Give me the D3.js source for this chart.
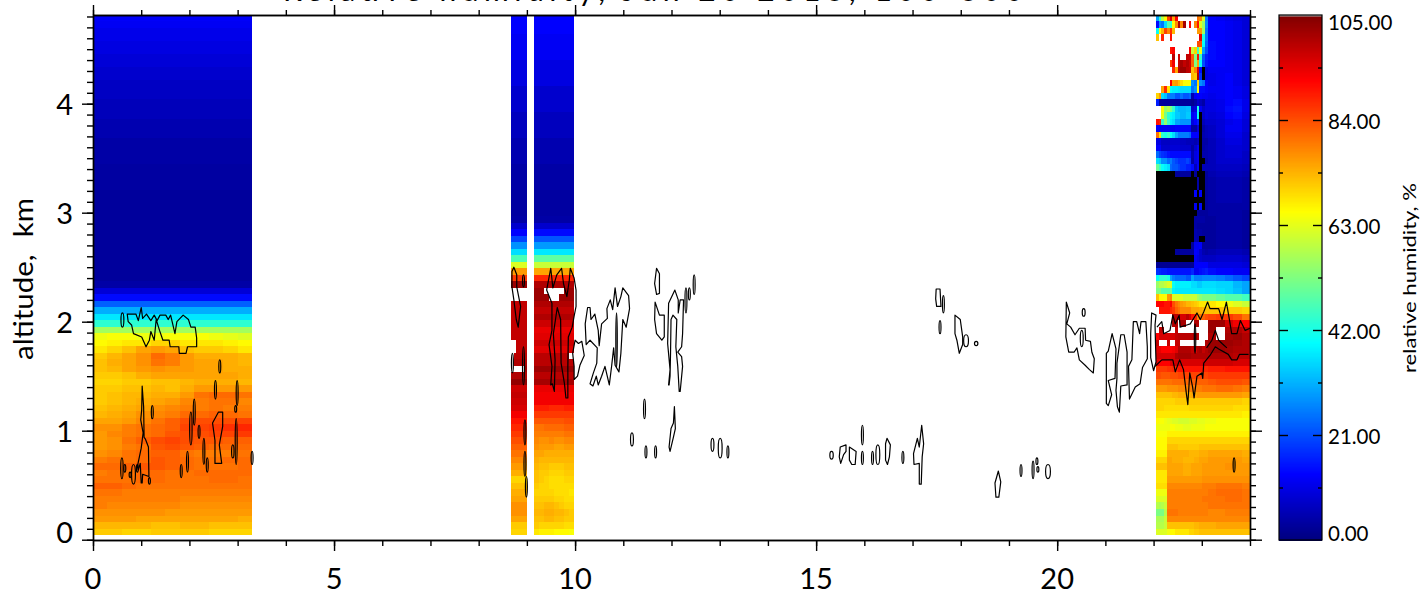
<!DOCTYPE html>
<html><head><meta charset="utf-8">
<script src="https://cdn.jsdelivr.net/npm/d3@7/dist/d3.min.js"></script>
<style>
html,body{margin:0;padding:0;background:#fff;overflow:hidden}
text{font-family:Lato,"Noto Sans",sans-serif;fill:#000}
</style></head><body><div id="chart"></div>
<script>
// ---------- data ----------
const W = null, K = -1;            // W: no data (white), K: out of range (black)
const xMajor = [0,5,10,15,20];
const yMajor = [0,1,2,3,4];
const barLabels = [0,21,42,63,84,105];
const titleText = "Relative humidity, Jun 20 2013, 100-300";
const rowBaseKm = 0.043, rowStepKm = 0.05966;

const blockLeftHours = [0,3.30];
const blockLeft = [
[71,71,70,70,71,71,71,71,70,70,70],
[73,73,73,73,72,72,73,73,72,72,72],
[76,76,76,75,75,75,75,75,75,75,74],
[77,77,77,77,77,76,76,76,76,76,76],
[79,78,78,78,78,78,77,77,77,77,77],
[79,79,79,79,79,79,78,78,78,78,78],
[80,80,79,79,79,79,79,79,79,79,79],
[82,82,81,80,80,80,80,80,80,80,80],
[80,80,80,81,81,80,80,80,81,81,80],
[79,80,80,81,81,80,80,81,81,81,81],
[81,81,82,83,83,82,81,80,80,80,81],
[79,80,80,81,83,82,81,80,80,81,81],
[77,78,80,81,82,82,80,79,79,79,80],
[76,77,79,80,83,84,83,82,81,81,81],
[76,77,80,82,84,85,84,83,83,82,82],
[76,78,79,80,81,83,84,84,85,85,86],
[77,77,79,80,81,82,85,85,86,87,88],
[75,75,76,78,80,82,84,84,84,84,85],
[73,74,75,77,78,79,81,81,82,81,80],
[72,73,74,75,77,78,79,79,80,79,79],
[71,72,73,74,75,76,78,79,80,80,78],
[71,72,73,73,74,74,76,80,81,81,80],
[71,71,72,72,73,72,74,76,76,76,76],
[70,70,71,71,72,72,73,74,74,74,73],
[71,71,72,74,75,75,75,75,75,75,74],
[72,73,75,76,77,76,76,75,75,74,74],
[72,74,75,77,80,79,76,75,75,74,73],
[71,73,75,77,81,79,76,74,74,74,73],
[68,70,72,75,76,75,72,71,71,70,68],
[66,67,68,68,70,70,68,68,68,67,66],
[64,65,65,64,64,65,65,65,64,63,62],
56,44,37,31,23,14,9,4,
3,3,3,3,3,3,3,3,3,3,3,3,3,3,
3.5,3.5,3.5,3.5,4,4,4,4,5,5,5,6,6,6,7,7,7,8,8,9,9,10,10,11,11,12,12.5
];

const blockMidAHours = [8.67,9.00];
const blockMidA = [
70,71,75,77,77,75,74,72,70,74,76,78,80,82,84,86,88,90,93,96,97,98,97,103,100,
[W,W,W,W,W,102],[W,100,100,100,100,100],[W,99,99,99,99,99],
[W,W,98,98,98,98],[W,W,98,98,98,98],
98,98,98,98,98,98,W,W,102,86,76,
62,47,36,28,20,13,8,4,
3.5,3.5,3.5,3.5,4,4,4,4,5,5,5,5,6.5,6.5,6.5,6.5,8,8,8,8,10,10,10,10,12,12,12,12,13,13,13
];

const blockMidBHours = [9.15,9.98];
const blockMidB = [
[68,67,67,67,66,66,66,65],[71,70,70,70,70,70,69,69],[72,72,73,73,72,72,71,71],
[73,73,74,74,73,73,72,71],[72,72,73,73,72,71,70,70],[71,71,71,71,70,70,69,69],
[70,70,70,70,69,69,69,68],[71,70,70,69,69,69,69,69],[72,71,70,69,69,69,70,70],
[72,71,71,70,70,70,71,71],[73,72,72,71,71,71,72,72],[74,73,73,73,73,73,73,73],
[75,75,74,74,74,74,74,74],[77,76,76,76,75,75,76,76],[78,77,77,78,77,77,78,78],
[79,79,79,79,79,79,80,80],[80,80,81,81,81,81,82,82],[83,83,83,83,83,83,84,84],
86,[89,89,89,88,88,88,89,89],93,93,94,101,99,102,99,
[99,99,99,99,99,99,99,W],95,97,95,94,97,100,98,100,
[102,102,102,W,W,102,102,102],[102,102,W,W,W,W,102,102],100,88,75,
60,49,37,29,22,14,8,4,
3.5,3.5,3.5,3.5,4,4,4,4,5,5,5,5,6.5,6.5,6.5,6.5,8,8,8,8,10,10,10,10,12,12,12,12,13,13,13
];

// written from the top row (highest altitude) downward
const blockRightHours = [22.05,23.12];
const blockRightTopDown = [
[30,45,58,66,85,95,75,92,W,W,W,W,W,W,W,80,78,62,26],
[14,28,25,36,48,44,66,78,100,78,101,W,92,W,78,90,62,55,27],
[40,66,73,85,78,87,73,W,W,W,W,W,W,W,W,76,76,56,25],
[72,W,88,W,W,90,W,W,W,W,W,W,W,W,W,W,95,42,25],
[W,W,W,W,W,W,W,W,W,W,W,W,W,W,W,84,84,40,23],
[W,W,W,W,W,90,92,W,W,W,W,W,92,60,70,45,65,30,21],
[W,W,W,W,W,W,99,W,97,W,W,98,98,82,52,90,45,22,16],
[W,W,W,W,W,86,93,W,98,101,98,100,97,82,52,75,40,21,15],
[W,W,W,W,W,W,88,75,99,102,102,99,98,72,78,95,14,K,10],
[W,W,W,W,W,W,W,W,W,W,W,W,W,73,71,100,18,K,10],
[W,W,W,W,W,92,75,76,72,69,65,65,65,28,25,70,28,25,13],
[W,W,75,88,68,40,38,38,37,36,36,36,36,25,28,66,14,14,13],
[70,76,36,33,26,26,26,22,22,25,22,22,24,5,12,13,13,12,12],
[16,3,3,3,3,3,3,3,3,3,3,3,3,2,4,8,6,4,10],
[W,W,66,55,58,52,45,34,32,32,32,33,33,8,10,42,12,8,10],
[W,W,64,52,44,40,38,34,34,32,32,34,34,12,14,40,K,8,10],
[90,88,45,55,45,38,36,30,30,28,28,28,28,10,13,16,K,6,8],
[13,12,12,12,12,12,12,13,13,13,13,13,13,4,4,10,K,4,6],
[80,68,44,42,45,40,36,30,26,26,26,26,24,13,13,13,K,5,6],
[10,10,7,7,7,8,8,8,8,7,7,6,6,6,5,7,K,4,4],
[13,13,8,8,8,9,9,9,9,8,8,8,8,4,8,12,K,4,5],
[24,20,18,17,15,14,14,14,14,14,14,14,14,5,10,12,K,5,5],
[36,34,28,28,24,26,22,20,18,18,18,20,18,4,10,12,K,K,4],
[50,45,40,38,36,24,22,22,20,18,18,16,16,14,6,13,K,6,6],
[K,K,K,K,K,K,K,3,3,3,3,3,3,K,3,K,K,K,3],
[K,K,K,K,K,K,K,K,K,K,K,K,K,K,K,4,K,K,3],
[K,K,K,K,K,K,K,K,K,K,K,K,K,K,K,4,K,K,3],
[K,K,K,K,K,K,K,K,K,K,K,K,K,K,13,K,13,K,3],
[K,K,K,K,K,K,K,K,K,K,K,K,K,K,K,K,K,K,3],
[K,K,K,K,K,K,K,K,K,K,K,K,K,K,12,K,14,K,3],
[K,K,K,K,K,K,K,K,K,K,K,K,K,K,K,3,3,3,3],
[K,K,K,K,K,K,K,K,K,K,K,K,K,K,4,4,4,4,3],
[K,K,K,K,K,K,K,K,K,K,K,K,K,K,4,3,3,3,3],
[K,K,K,K,K,K,K,K,K,K,K,K,K,K,5,4,4,3,3],
[K,K,K,K,K,K,K,K,K,K,K,K,K,K,5,4,K,K,3],
[K,K,K,K,K,K,K,K,K,K,K,K,K,3,12,12,13,3,3],
[K,K,K,K,K,K,K,3,3,3,3,3,3,3,13,12,8,5,4],
[K,K,K,K,K,K,K,K,K,K,K,K,K,K,12,10,8,7,7],
[2,2,2,2,2,2,2,2,2,2,2,2,2,2,13,13,13,13,13],
[18,17,16,16,15,15,15,15,15,15,15,15,15,17,12,12,14,15,16],
[40,44,44,44,42,30,26,24,24,24,24,22,22,30,26,26,26,27,27],
[55,58,58,60,62,62,40,38,38,38,38,38,38,36,36,34,34,36,36],
[52,52,48,48,48,50,38,37,37,37,37,37,37,37,37,37,37,37,37],
[72,66,66,65,76,78,62,62,62,62,60,60,60,60,60,56,54,52,52],
[92,92,92,90,90,92,84,80,78,76,75,73,73,72,71,70,68,68,68],
[W,90,90,90,90,88,86,82,80,78,78,78,78,75,75,75,74,73,72],
[W,W,W,W,W,W,99,99,96,96,96,99,96,90,88,78,80,82,84],
[W,W,W,W,W,W,100,100,W,101,101,W,W,W,100,100,W,W,W],
[W,98,98,W,W,W,W,98,W,W,W,W,W,W,W,W,W,W,W],
[92,96,96,96,96,96,96,98,99,99,99,99,99,99,99,99,W,W,W],
[98,W,W,W,98,W,W,98,98,W,W,W,W,W,W,W,W,W,100],
[95,94,92,92,92,92,93,95,100,100,100,100,100,98,96,100,101,98,100],
[96,96,96,96,96,96,96,100,101,101,101,101,101,100,100,100,100,100,100],
[94,92,92,92,92,95,96,97,96,96,96,96,96,96,96,96,96,97,97],
[86,86,86,86,87,87,88,88,90,90,90,90,90,90,90,90,90,89,88],
[84,84,83,83,83,84,84,84,85,85,85,85,85,85,85,85,85,85,85],
[80,80,80,80,80,80,81,81,81,81,81,81,82,82,82,82,82,82,82],
[76,76,76,76,77,77,77,77,78,78,78,78,79,79,79,79,79,80,80],
[72,72,72,72,72,72,73,73,74,74,74,74,74,75,75,76,76,76,76],
[70,70,70,70,70,70,70,71,71,71,71,71,71,71,71,71,71,71,71],
[70,70,70,69,69,69,69,69,69,69,69,69,70,70,70,70,70,70,70],
68,
[66,65,65,64,63,63,62,62,61,61,61,61,62,62,62,63,63,63,64],
[64,64,64,64,64,65,65,64,64,64,63,63,63,64,64,64,64,64,65],
[65,65,65,65,67,67,67,67,67,67,67,67,67,67,67,67,67,67,67],
[66,66,66,66,70,70,70,70,70,70,70,70,70,70,70,70,70,70,70],
[66,66,66,66,72,72,72,72,71,71,71,71,71,71,71,71,72,72,72],
[67,67,67,67,74,74,74,74,74,74,74,74,73,73,73,73,74,74,74],
[70,70,70,70,75,75,74,74,74,74,73,73,73,73,74,74,75,75,75],
[72,72,72,72,75,75,75,75,75,75,74,74,74,75,75,75,75,76,76],
[68,68,68,68,75,75,75,75,75,75,74,74,74,75,75,75,75,76,76],
[68,68,68,68,76,76,76,76,76,76,76,76,76,76,76,76,76,77,77],
[69,69,69,69,78,78,78,78,78,78,78,78,78,78,78,78,78,79,79],
[64,64,64,64,79,79,79,79,79,79,79,79,79,79,79,79,79,79,79],
[62,62,62,62,79,79,79,79,79,79,79,79,79,79,79,79,79,80,80],
[58,57,58,60,79,79,79,79,79,79,79,79,79,79,79,79,79,79,79],
[52,52,52,58,80,80,80,80,79,79,79,79,79,79,79,79,79,79,79],
[57,57,57,60,78,78,78,78,78,78,78,78,78,78,78,78,78,78,78],
[58,58,58,60,72,72,72,72,72,72,72,72,72,72,73,73,74,74,74],
[62,62,62,62,64,66,66,68,68,68,68,68,70,70,71,71,72,72,72]
];

const blockFarHours = [23.12,24.0];
const blockFarTopDown = [
[13,12,11,10,9],[13,13,12,11,9],[13,13,12,11,9],[13,13,12,11,9],[14,13,12,11,9],
[14,13,12,11,9],[14,13,12,11,9],[13,13,12,11,9],[12,12,12,11,9],[11,12,13,11,9],
[11,12,13,11,9],[12,12,13,12,10],[11,12,13,12,10],[10,11,13,14,11],[10,11,14,15,11],
[9,10,13,14,10],[8,9,11,12,9],[7,9,12,12,9],[7,9,11,11,8],[6,8,10,10,8],
[6,8,9,9,8],[6,8,9,9,7],[6,8,8,8,7],[6,7,7,7,6],[5,6,6,6,5],
[4,5,5,5,4],[4,5,5,5,4],[4,5,5,5,4],[4,5,5,5,4],[4,4,4,4,4],[4,4,4,4,3],
[3,4,4,4,3],[3,4,4,4,3],[3,4,4,4,3],[3,4,4,4,3],[3,4,4,4,3],
[5,6,6,6,5],[7,8,8,8,7],[10,10,10,10,9],[14,13,13,12,12],[27,26,24,22,20],
[36,35,35,32,30],[37,36,35,33,30],[52,50,48,48,46],[68,66,64,62,60],[72,72,71,71,70],
[85,86,86,84,80],[102,102,96,93,92],[102,W,100,100,98],[100,W,101,102,100],[102,102,102,101,100],
[102,102,101,100,100],[100,100,100,99,99],[97,97,97,96,96],[89,89,90,90,90],[86,86,86,86,86],
[83,84,84,84,83],[80,81,81,80,79],[76,76,76,76,75],[71,71,71,71,70],[70,70,70,69,69],
[68,68,68,68,67],[64,65,65,65,65],[65,65,65,65,65],[67,67,67,67,67],[70,70,70,70,70],
[72,72,72,72,72],[75,75,75,75,74],[76,76,76,76,75],[76,76,77,76,76],[76,76,76,76,76],
[77,77,77,77,77],[79,80,80,80,79],[80,81,81,81,80],[80,80,81,81,80],[80,80,80,80,80],
[78,78,79,79,79],[78,78,78,78,78],[74,75,75,75,75],[72,72,72,72,72]
];

// contour outlines as [hour, km]
const closedLoops = [
[[.71,2.07],[.89,2.07],[.94,2.01],[1.00,2.13],[1.03,2.03],[1.11,2.07],[1.20,2.01],[1.27,2.06],[1.33,2.01],[1.39,2.06],[1.51,2.06],[1.56,2.02],[1.61,2.06],[1.70,1.89],[1.74,2.00],[1.87,2.06],[1.98,2.02],[2.03,1.95],[2.12,1.95],[2.15,1.85],[2.15,1.77],[1.96,1.77],[1.93,1.71],[1.79,1.71],[1.78,1.77],[1.60,1.77],[1.58,1.83],[1.45,1.83],[1.38,1.92],[1.31,2.02],[1.27,1.83],[1.20,1.91],[1.17,1.83],[1.10,1.77],[1.01,1.86],[.84,1.89],[.80,1.97],[.73,2.00]],
[[1.02,1.41],[1.05,1.22],[1.06,.94],[1.09,.92],[1.15,.85],[1.16,.58],[1.03,.60],[1.02,.52],[1.00,.52],[.98,.70],[.94,.64],[.92,.67],[1.00,.84],[1.04,.98],[.99,1.10],[1.01,1.19]],
[[2.60,1.17],[2.69,1.17],[2.69,1.04],[2.62,.87],[2.67,.70],[2.53,.70],[2.53,.91],[2.48,1.07]],
[[8.73,2.50],[8.79,2.43],[8.79,2.32],[8.87,2.14],[8.82,1.95],[8.78,2.02],[8.73,2.20],[8.69,2.32],[8.69,2.46]],
[[9.495,2.49],[9.54,2.31],[9.62,2.43],[9.72,2.49],[9.76,2.35],[9.83,2.23],[9.88,2.38],[9.90,2.49],[9.98,2.40],[10.02,2.29],[10.02,2.14],[9.98,2.05],[9.94,1.95],[9.86,1.86],[9.85,1.59],[9.85,1.30],[9.81,1.30],[9.78,1.43],[9.71,1.62],[9.70,2.02],[9.63,2.13],[9.55,1.89],[9.585,1.65],[9.57,1.36],[9.53,1.43],[9.495,1.42],[9.52,1.59],[9.46,1.79],[9.52,1.92],[9.52,2.17],[9.41,2.29]],
[[9.98,1.47],[10.05,1.50],[10.10,1.60],[10.19,1.69],[10.14,1.82],[10.07,1.80],[10.00,1.83],[9.95,1.71],[9.98,1.59]],
[[10.23,1.79],[10.21,1.98],[10.26,2.13],[10.31,2.13],[10.33,2.02],[10.41,2.07],[10.48,1.92],[10.50,1.78],[10.55,1.98],[10.67,2.03],[10.66,2.12],[10.73,2.20],[10.78,2.11],[10.83,2.31],[10.88,2.14],[10.95,2.23],[10.99,2.31],[11.11,2.24],[11.13,2.12],[11.06,1.95],[10.99,2.02],[10.95,1.71],[10.91,1.54],[10.83,1.60],[10.80,1.76],[10.76,1.60],[10.71,1.42],[10.62,1.59],[10.55,1.50],[10.48,1.42],[10.44,1.50],[10.37,1.41],[10.31,1.43],[10.38,1.53],[10.45,1.62],[10.46,1.76],[10.31,1.83]],
[[11.69,2.49],[11.75,2.44],[11.75,2.26],[11.69,2.25],[11.65,2.35]],
[[11.66,2.18],[11.75,2.06],[11.85,2.06],[11.85,1.86],[11.80,1.83],[11.69,1.89],[11.65,2.02]],
[[11.94,1.42],[11.97,1.56],[11.92,1.80],[11.94,2.17],[12.07,2.29],[12.14,2.20],[12.14,2.08],[12.18,2.20],[12.25,2.20],[12.23,1.89],[12.21,1.77],[12.13,1.72],[12.21,1.68],[12.23,1.59],[12.18,1.36],[12.16,1.36],[12.13,1.59],[12.09,1.77],[12.11,2.02],[12.03,2.06],[11.99,2.02],[11.98,1.71],[11.97,1.50],[11.95,1.42]],
[[12.06,1.22],[12.08,1.02],[12.04,.94],[11.97,.81],[11.95,.85],[11.99,1.02],[12.04,1.07]],
[[15.50,.85],[15.62,.87],[15.62,.81],[15.57,.78],[15.51,.70],[15.48,.76]],
[[15.69,.85],[15.83,.81],[15.81,.69],[15.74,.69],[15.69,.73]],
[[16.47,.93],[16.54,.87],[16.52,.76],[16.48,.69],[16.44,.73],[16.44,.88]],
[[17.19,1.05],[17.23,.88],[17.20,.76],[17.18,.51],[17.14,.51],[17.14,.70],[17.03,.69],[17.02,.79],[17.10,.93],[17.14,.85]],
[[18.78,.63],[18.83,.53],[18.79,.39],[18.73,.39],[18.71,.52]],
[[17.49,2.30],[17.57,2.30],[17.59,2.14],[17.50,2.14],[17.48,2.21]],
[[17.88,2.06],[17.99,2.02],[18.04,1.86],[18.04,1.79],[17.97,1.71],[17.92,1.83],[17.88,1.89]],
[[20.19,2.18],[20.26,2.08],[20.20,1.98],[20.28,1.95],[20.37,1.88],[20.46,1.94],[20.58,1.94],[20.59,1.83],[20.69,1.82],[20.72,1.72],[20.77,1.66],[20.75,1.53],[20.67,1.56],[20.58,1.60],[20.46,1.65],[20.41,1.76],[20.35,1.72],[20.24,1.72],[20.18,1.86]],
[[21.02,1.71],[21.06,1.73],[21.14,1.89],[21.22,1.75],[21.20,1.48],[21.06,1.46],[21.13,1.33],[21.06,1.23],[21.02,1.25],[21.02,1.46]],
[[21.24,1.62],[21.32,1.88],[21.39,1.88],[21.45,1.72],[21.45,1.42],[21.32,1.41],[21.29,1.17],[21.25,1.22],[21.22,1.37],[21.24,1.48]],
[[21.48,1.59],[21.55,1.65],[21.58,2.00],[21.65,2.00],[21.71,1.89],[21.74,2.00],[21.84,2.00],[21.87,1.77],[21.87,1.66],[21.77,1.58],[21.72,1.43],[21.62,1.40],[21.50,1.29]],
[[21.96,2.08],[22.05,2.06],[22.03,1.97],[22.05,1.63],[22.00,1.55],[21.94,1.67],[21.94,1.89]]
];
const openLines = [
[[22.03,1.59],[22.17,1.65],[22.40,1.65],[22.45,1.54],[22.54,1.65],[22.62,1.56],[22.68,1.34],[22.71,1.24],[22.75,1.53],[22.81,1.40],[22.84,1.30],[22.90,1.50],[23.00,1.53],[23.02,1.48],[23.04,1.62],[23.17,1.69],[23.28,1.77],[23.35,1.75],[23.55,1.70],[23.62,1.65],[23.73,1.65],[23.78,1.70],[23.97,1.70]],
[[22.07,1.95],[22.17,2.00],[22.21,1.89],[22.34,1.92],[22.40,2.06],[22.45,1.98],[22.53,2.06],[22.55,1.95],[22.69,1.97],[22.76,1.98],[22.90,2.08],[22.97,2.02],[23.04,2.09],[23.12,2.18],[23.17,2.12],[23.35,2.12],[23.42,2.02],[23.51,2.18],[23.58,2.00],[23.62,1.89],[23.73,1.89],[23.80,2.01],[23.90,1.92],[24.0,1.94]],
[[23.10,1.76],[23.21,1.83],[23.28,1.92],[23.35,1.83],[23.42,1.80],[23.52,1.76]]
];
// narrow contour loops: [hour, lower km, upper km, half width in hours]
const thinLoops = [
[.61,1.95,2.08,.03],[2.63,1.53,1.65,.02],[2.54,1.29,1.46,.02],[2.99,1.23,1.46,.02],[2.96,1.17,1.23,.02],
[1.23,1.11,1.23,.02],[2.10,1.05,1.29,.02],[2.03,.87,1.17,.025],[2.20,.93,1.05,.02],[2.30,.69,.93,.02],
[2.37,.62,.75,.02],[1.96,.62,.81,.02],[1.83,.57,.69,.02],[2.97,.69,1.11,.02],[2.90,.75,.87,.025],
[3.30,.69,.81,.02],[.60,.56,.75,.025],[.66,.62,.69,.02],[.77,.57,.62,.02],[.84,.51,.69,.04],
[.92,.62,.69,.02],[1.17,.51,.57,.02],
[8.93,2.32,2.43,.02],[8.93,1.42,1.77,.02],[8.70,1.53,1.71,.02],[8.96,.87,1.10,.02],[8.96,.58,.81,.02],[8.99,.39,.58,.02],
[10.86,1.58,2.08,.015],[12.30,2.08,2.31,.02],[12.37,2.20,2.31,.02],[12.47,2.25,2.43,.02],
[11.44,1.11,1.29,.02],[11.18,.86,.98,.03],[11.47,.75,.86,.02],[11.67,.75,.86,.02],
[12.85,.81,.93,.03],[13.01,.75,.93,.04],[13.17,.75,.86,.02],
[15.32,.74,.81,.035],[15.96,.87,1.05,.02],[15.96,.69,.81,.02],[16.17,.69,.81,.02],[16.28,.69,.87,.04],[16.80,.70,.81,.02],
[19.25,.58,.69,.02],[19.50,.56,.72,.02],[19.58,.69,.75,.02],[19.60,.62,.67,.02],[19.81,.56,.69,.05],
[17.64,2.08,2.24,.02],[17.57,1.89,2.01,.02],[18.11,1.77,1.88,.05],[18.32,1.78,1.82,.035],
[20.55,2.05,2.12,.03],[20.51,1.77,1.92,.03],[22.86,1.71,1.98,.015],[23.67,.62,.75,.02]
];

// ---------- drawing ----------
const width=1422, height=596;
const x=d3.scaleLinear().domain([0,24]).range([93,1250]);
const y=d3.scaleLinear().domain([0,4.82]).range([539.7,14.3]);
const jetStops=[0,13.125,39.375,65.625,91.875,105];
const color=d3.scaleLinear().domain(jetStops).range(["#00007f","#0000ff","#00ffff","#ffff00","#ff0000","#7f0000"]).clamp(true);

const svg=d3.select("#chart").append("svg").attr("width",width).attr("height",height).style("display","block");

const cells=svg.append("g").attr("shape-rendering","crispEdges");
function drawBlock(rows,hours){
  const nCols=d3.max(rows,r=>Array.isArray(r)?r.length:1);
  const cx=d3.scaleLinear().domain([0,nCols]).range(hours);
  rows.forEach((row,r)=>{
    const vals=Array.isArray(row)?row:d3.range(nCols).map(()=>row);
    const top=y(rowBaseKm+(r+1)*rowStepKm), bot=y(rowBaseKm+r*rowStepKm);
    cells.selectAll(null).data(vals.map((v,c)=>({v,c})).filter(d=>d.v!==null)).join("rect")
      .attr("x",d=>x(cx(d.c))).attr("width",d=>x(cx(d.c+1))-x(cx(d.c)))
      .attr("y",top).attr("height",bot-top)
      .attr("fill",d=>d.v===K?"#000":color(d.v));
  });
}
drawBlock(blockLeft,blockLeftHours);
drawBlock(blockMidA,blockMidAHours);
drawBlock(blockMidB,blockMidBHours);
drawBlock(blockRightTopDown.slice().reverse(),blockRightHours);
drawBlock(blockFarTopDown.slice().reverse(),blockFarHours);

const contour=svg.append("g").attr("fill","none").attr("stroke","#000").attr("stroke-width",1.2).attr("stroke-linejoin","round");
contour.selectAll("path.c").data(closedLoops).join("path").attr("class","c")
  .attr("d",d3.line().x(d=>x(d[0])).y(d=>y(d[1])).curve(d3.curveLinearClosed));
contour.selectAll("path.o").data(openLines).join("path").attr("class","o")
  .attr("d",d3.line().x(d=>x(d[0])).y(d=>y(d[1])));
contour.selectAll("ellipse").data(thinLoops).join("ellipse")
  .attr("cx",d=>x(d[0])).attr("cy",d=>y((d[1]+d[2])/2))
  .attr("rx",d=>x(d[3])-x(0)).attr("ry",d=>(y(d[1])-y(d[2]))/2);

// axes
const xMinor=d3.range(0,25), yMinor=d3.range(0,4.81,.1);
function axisGroup(axis,tx,ty){
  const g=svg.append("g").attr("transform",`translate(${tx},${ty})`).call(axis);
  g.selectAll("path,line").attr("stroke","#000").attr("stroke-width",1.4);
  g.selectAll("text").remove();
  return g;
}
axisGroup(d3.axisBottom(x).tickValues(xMinor).tickSize(6).tickSizeOuter(0),0,y(0)+.3);
axisGroup(d3.axisBottom(x).tickValues(xMajor).tickSize(11).tickSizeOuter(0),0,y(0)+.3);
axisGroup(d3.axisTop(x).tickValues(xMinor).tickSize(5).tickSizeOuter(0),0,15);
axisGroup(d3.axisTop(x).tickValues(xMajor).tickSize(10).tickSizeOuter(0),0,15);
axisGroup(d3.axisLeft(y).tickValues(yMinor).tickSize(6).tickSizeOuter(0),93,0);
axisGroup(d3.axisLeft(y).tickValues(yMajor).tickSize(11).tickSizeOuter(0),93,0);
axisGroup(d3.axisRight(y).tickValues(yMinor).tickSize(6).tickSizeOuter(0),1250,0);
axisGroup(d3.axisRight(y).tickValues(yMajor).tickSize(12).tickSizeOuter(0),1250,0);

svg.selectAll("text.xt").data(xMajor).join("text").attr("class","xt")
  .attr("x",d=>x(d)).attr("y",589).attr("text-anchor","middle").attr("font-size",29).text(d=>d);
svg.selectAll("text.yt").data(yMajor).join("text").attr("class","yt")
  .attr("x",73).attr("y",d=>d===0?543:y(d)+11).attr("text-anchor","end").attr("font-size",29).text(d=>d);
svg.append("text").attr("transform","translate(33,360) rotate(-90)").attr("font-size",27)
  .attr("word-spacing",9).attr("textLength",162).attr("lengthAdjust","spacingAndGlyphs").text("altitude, km");
svg.append("text").attr("x",283).attr("y",1).attr("font-size",30)
  .attr("textLength",740).attr("lengthAdjust","spacing").text(titleText);

// colour bar
const barY=d3.scaleLinear().domain([0,105]).range([540,15]);
const barG=svg.append("g").attr("shape-rendering","crispEdges");
barG.selectAll("rect").data(d3.range(0,105,.25)).join("rect")
  .attr("x",1279).attr("width",43).attr("y",d=>barY(d+.25)).attr("height",d=>barY(d)-barY(d+.25)+.5)
  .attr("fill",d=>color(d));
svg.append("rect").attr("x",1279).attr("y",15).attr("width",43).attr("height",1.5).attr("fill","#aaa");
svg.append("rect").attr("x",1279).attr("y",15).attr("width",43).attr("height",525)
  .attr("fill","none").attr("stroke","#000").attr("stroke-width",1.2);
const barMinor=[10.5,31.5,52.5,73.5,94.5], barMajor=[21,42,63,84];
[[d3.axisRight,1279,1],[d3.axisLeft,1322,1]].forEach(([ax,tx])=>{
  const a=axisGroup(ax(barY).tickValues(barMajor).tickSize(9).tickSizeOuter(0),tx,0);
  a.selectAll("path").remove();
  a.selectAll("line").attr("x2",tx===1279?9:-9);
  const b=axisGroup(ax(barY).tickValues(barMinor).tickSize(4).tickSizeOuter(0),tx,0);
  b.selectAll("path").remove();
  b.selectAll("line").attr("x2",tx===1279?4:-4);
});
svg.selectAll("text.bt").data(barLabels).join("text").attr("class","bt")
  .attr("x",1328).attr("y",d=>Math.max(23,Math.min(534,barY(d)+2))+7.3)
  .attr("font-size",20.5).text(d=>d.toFixed(2));
svg.append("text").attr("transform","translate(1416,373) rotate(-90)").attr("font-size",17)
  .attr("textLength",190).attr("lengthAdjust","spacingAndGlyphs").text("relative humidity, %");
</script></body></html>
